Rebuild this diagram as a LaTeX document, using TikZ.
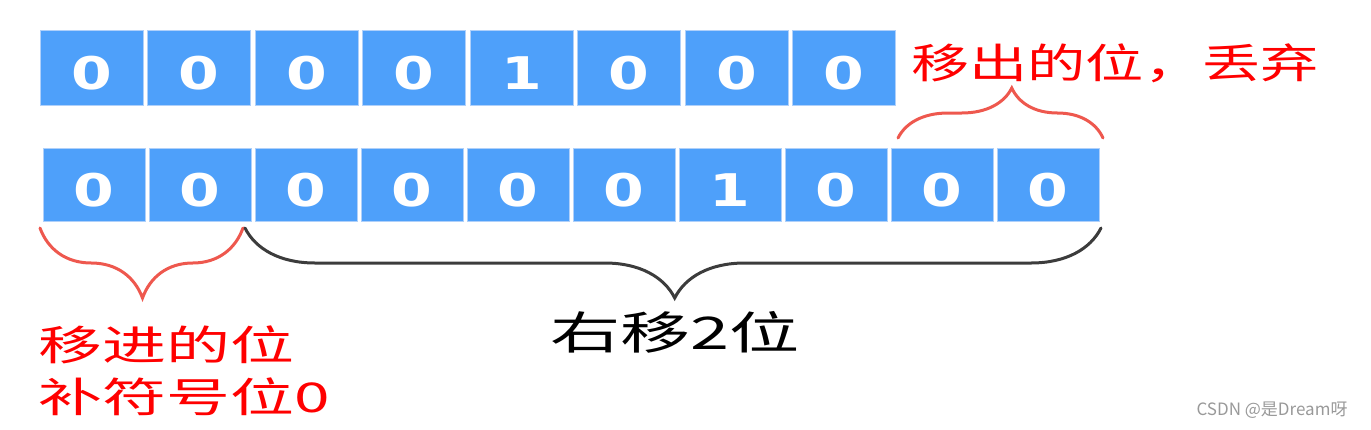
\documentclass[tikz,border=0pt]{standalone}
\usepackage{fontspec}
\usepackage{tikz}
\usetikzlibrary{positioning}
\usetikzlibrary{decorations.pathreplacing}
\newfontfamily\cjk[FakeStretch=1.42]{Noto Sans CJK SC}
\newfontfamily\cjkwide[FakeStretch=1.56]{Noto Sans CJK SC}
\newfontfamily\wmfont{Noto Sans CJK SC}
\newfontfamily\digitfont[FakeStretch=1.3]{DejaVu Sans}
\definecolor{cellblue}{RGB}{78,160,250}
\definecolor{celledge}{RGB}{175,208,250}
\definecolor{bracered}{RGB}{238,88,78}
\definecolor{bracegray}{RGB}{60,60,60}
\tikzset{
  bit/.style={rectangle,fill=cellblue,draw=celledge,line width=1pt,outer sep=0pt,inner sep=0pt,
    text=white,font=\digitfont\bfseries\fontsize{45}{50}\selectfont,text height=44pt,text depth=0pt},
  topbit/.style={bit,minimum width=103pt,minimum height=75pt},
  lowbit/.style={bit,minimum width=102pt,minimum height=73pt},
  curly/.style={decorate,line width=3pt,line cap=round},
  redlbl/.style={text=red,font=\cjk\fontsize{41}{52}\selectfont,inner sep=0pt}
}
\begin{document}
\begin{tikzpicture}[x=1pt,y=-1pt]
\useasboundingbox (0,0) rectangle (1371,429);
% original value
\node[topbit] (t1) at (91.5,67.5) {0};
\node[topbit,right=4.5pt of t1] (t2) {0}; \node[topbit,right=4.5pt of t2] (t3) {0};
\node[topbit,right=4.5pt of t3] (t4) {0}; \node[topbit,right=4.5pt of t4] (t5) {1};
\node[topbit,right=4.5pt of t5] (t6) {0}; \node[topbit,right=4.5pt of t6] (t7) {0};
\node[topbit,right=4.5pt of t7] (t8) {0};
% shifted value
\node[lowbit] (b1) at (94,184.5) {0};
\node[lowbit,right=4pt of b1] (b2) {0}; \node[lowbit,right=4pt of b2] (b3) {0};
\node[lowbit,right=4pt of b3] (b4) {0}; \node[lowbit,right=4pt of b4] (b5) {0};
\node[lowbit,right=4pt of b5] (b6) {0}; \node[lowbit,right=4pt of b6] (b7) {1};
\node[lowbit,right=4pt of b7] (b8) {0}; \node[lowbit,right=4pt of b8] (b9) {0};
\node[lowbit,right=4pt of b9] (b10) {0};
% braces
\draw[curly,bracered,decoration={brace,amplitude=50pt,aspect=0.555}]
  ([xshift=7pt,yshift=10pt]b9.north west) -- ([xshift=4pt,yshift=10pt]b10.north east);
\draw[curly,bracered,decoration={brace,mirror,amplitude=70pt,aspect=0.505}]
  ([xshift=-3pt,yshift=-7pt]b1.south west) -- ([xshift=-8pt,yshift=-7pt]b2.south east);
\draw[curly,bracegray,decoration={brace,mirror,amplitude=70pt,aspect=0.502}]
  ([xshift=-10pt,yshift=-7pt]b3.south west) -- ([xshift=2pt,yshift=-7pt]b10.south east);
% labels
\node[redlbl] (outlbl) at (1115,63) {移出的位，丢弃};
\node[redlbl,font=\cjkwide\fontsize{41}{52}\selectfont,anchor=west,align=left] (inlbl) at (38,371) {移进的位\\补符号位0};
\node[inner sep=0pt,font=\cjkwide\fontsize{45}{50}\selectfont] (shiftlbl) at (675,332) {右移2位};
\node[inner sep=0pt,text=black!40,font=\wmfont\fontsize{17}{20}\selectfont] (mark) at (1272,410) {CSDN @是Dream呀};
\end{tikzpicture}
\end{document}
